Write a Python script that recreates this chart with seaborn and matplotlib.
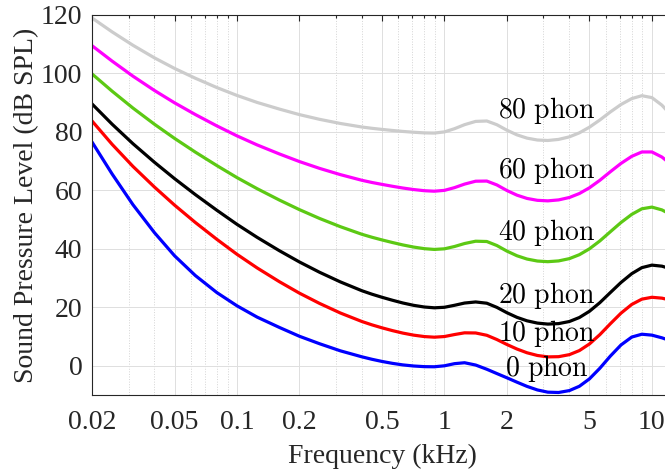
import matplotlib
matplotlib.use("Agg")
import matplotlib.pyplot as plt
import seaborn as sns
import pandas as pd
from matplotlib.ticker import FixedLocator, NullFormatter

# ---- data ----
freq_khz = [0.02, 0.025, 0.0315, 0.04, 0.05, 0.063, 0.08, 0.1, 0.125, 0.16,
            0.2, 0.25, 0.315, 0.4, 0.447, 0.5, 0.561, 0.63, 0.71, 0.8,
            0.894, 1.0, 1.118, 1.25, 1.414, 1.6, 1.789, 2.0, 2.236, 2.5,
            2.806, 3.15, 3.55, 4.0, 4.472, 5.0, 5.612, 6.3, 7.099, 8.0,
            8.944, 10.0, 11.18, 12.5]

spl_0 = [76.55, 65.62, 55.12, 45.54, 37.63, 30.86, 25.03, 20.51, 16.65, 13.12,
         10.09, 7.54, 5.11, 3.06, 2.22, 1.48, 0.83, 0.30, -0.08, -0.30,
         -0.34, -0.01, 0.72, 1.04, 0.25, -1.19, -2.66, -4.11, -5.61, -7.05,
         -8.27, -9.03, -9.14, -8.49, -7.01, -4.48, -0.85, 3.28, 7.13, 9.83,
         10.79, 10.48, 9.56, 8.38]
spl_10 = [83.75, 75.76, 68.21, 61.14, 54.96, 49.01, 43.24, 38.13, 33.48, 28.77,
          24.84, 21.33, 18.05, 15.14, 14.00, 12.98, 12.03, 11.18, 10.48, 9.99,
          9.78, 10.00, 10.68, 11.27, 11.22, 10.43, 8.98, 7.28, 5.73, 4.45,
          3.52, 3.04, 3.11, 3.80, 5.20, 7.46, 10.65, 14.35, 18.01, 20.99,
          22.79, 23.43, 23.13, 22.33]
spl_20 = [89.58, 82.65, 75.98, 69.62, 64.02, 58.55, 53.19, 48.38, 43.94, 39.37,
          35.51, 31.99, 28.69, 25.67, 24.49, 23.43, 22.42, 21.48, 20.68, 20.10,
          19.83, 20.01, 20.69, 21.46, 21.83, 21.40, 19.98, 18.15, 16.57, 15.38,
          14.60, 14.26, 14.42, 15.14, 16.51, 18.64, 21.59, 25.02, 28.51, 31.52,
          33.57, 34.43, 34.07, 33.04]
spl_40 = [99.85, 93.94, 88.17, 82.63, 77.79, 73.08, 68.48, 64.37, 60.59, 56.70,
          53.41, 50.40, 47.58, 44.98, 43.97, 43.05, 42.17, 41.34, 40.61, 40.06,
          39.80, 40.01, 40.80, 41.82, 42.61, 42.51, 41.14, 39.23, 37.64, 36.51,
          35.83, 35.61, 35.87, 36.65, 38.00, 40.01, 42.71, 45.83, 49.02, 51.80,
          53.70, 54.28, 53.32, 51.49]
spl_60 = [109.51, 104.23, 99.08, 94.18, 89.96, 85.94, 82.05, 78.65, 75.56, 72.47,
          69.86, 67.53, 65.39, 63.45, 62.71, 62.05, 61.41, 60.81, 60.29, 59.89,
          59.72, 60.01, 60.94, 62.15, 63.14, 63.19, 61.87, 59.96, 58.37, 57.25,
          56.60, 56.42, 56.74, 57.57, 58.93, 60.89, 63.46, 66.36, 69.24, 71.66,
          73.14, 73.15, 71.40, 68.63]
spl_80 = [118.99, 114.23, 109.65, 105.34, 101.72, 98.36, 95.17, 92.48, 90.09, 87.82,
          85.92, 84.31, 82.89, 81.68, 81.24, 80.86, 80.50, 80.17, 79.89, 79.67,
          79.61, 80.01, 81.10, 82.48, 83.60, 83.74, 82.47, 80.59, 79.00, 77.88,
          77.23, 77.07, 77.44, 78.31, 79.69, 81.62, 84.09, 86.81, 89.39, 91.41,
          92.39, 91.74, 89.14, 85.41]

phon_levels = ["0", "10", "20", "40", "60", "80"]
phon_colors = ["#0000ff", "#ff0000", "#000000", "#5cc914", "#ff00ff", "#cccccc"]
label_x = [3.1, 3.1, 3.1, 3.1, 3.1, 3.1]
label_y = [-0.8, 11.2, 24.2, 45.7, 66.9, 87.4]

xtick_vals = [0.02, 0.05, 0.1, 0.2, 0.5, 1, 2, 5, 10]
xtick_labels = ["0.02", "0.05", "0.1", "0.2", "0.5", "1", "2", "5", "10"]
xminor_vals = [0.03, 0.04, 0.06, 0.07, 0.08, 0.09, 0.3, 0.4, 0.6, 0.7, 0.8, 0.9,
               3, 4, 6, 7, 8, 9]
ytick_vals = [0, 20, 40, 60, 80, 100, 120]

# ---- long-form table ----
series = [spl_0, spl_10, spl_20, spl_40, spl_60, spl_80]
rows = []
for lvl, vals in zip(phon_levels, series):
    for f, v in zip(freq_khz, vals):
        rows.append({"freq": f, "spl": v, "phon": lvl})
df = pd.DataFrame(rows)

sns.set_theme(style="white")
plt.rcParams["font.family"] = ["Liberation Serif", "DejaVu Serif"]
plt.rcParams["mathtext.fontset"] = "cm"

ink = "#262626"
fig = plt.figure(figsize=(6.65, 4.72), dpi=100)
ax = fig.add_axes([92 / 665, 77 / 472, 580 / 665, 380 / 472])

sns.lineplot(data=df, x="freq", y="spl", hue="phon", hue_order=phon_levels,
             palette=dict(zip(phon_levels, phon_colors)), linewidth=2.3,
             legend=False, ax=ax, sort=True, estimator=None)
for ln in ax.get_lines():
    ln.set_solid_joinstyle("round")

ax.set_xscale("log")
ax.set_xlim(0.02, 12.5)
ax.set_ylim(-10, 120)

ax.xaxis.set_major_locator(FixedLocator(xtick_vals))
ax.set_xticklabels(xtick_labels)
ax.xaxis.set_minor_locator(FixedLocator(xminor_vals))
ax.xaxis.set_minor_formatter(NullFormatter())
ax.set_yticks(ytick_vals)

ax.grid(True, which="major", axis="both", color="#dedede", linewidth=0.7, linestyle="-")
ax.grid(True, which="minor", axis="x", color="#d4d4d4", linewidth=0.7, linestyle=":")
ax.set_axisbelow(True)

ax.tick_params(which="both", direction="in", top=True, right=True, colors=ink,
               labelsize=20, width=0.8)
ax.tick_params(which="major", length=4)
ax.tick_params(which="minor", length=2.5)
ax.tick_params(axis="x", which="major", pad=11)
ax.tick_params(axis="y", which="major", pad=7)
for s in ax.spines.values():
    s.set_color(ink)
    s.set_linewidth(0.8)

ax.set_xlabel("Frequency (kHz)", fontsize=20, color=ink, labelpad=6)
ax.set_ylabel("Sound Pressure Level (dB SPL)", fontsize=20, color=ink, labelpad=1)

for lvl, x, y in zip(phon_levels, label_x, label_y):
    ax.text(x, y, r"$\mathrm{" + lvl + r"\ phon}$", fontsize=20, ha="center",
            va="center", color="black")

fig.savefig("out.png", dpi=100)
